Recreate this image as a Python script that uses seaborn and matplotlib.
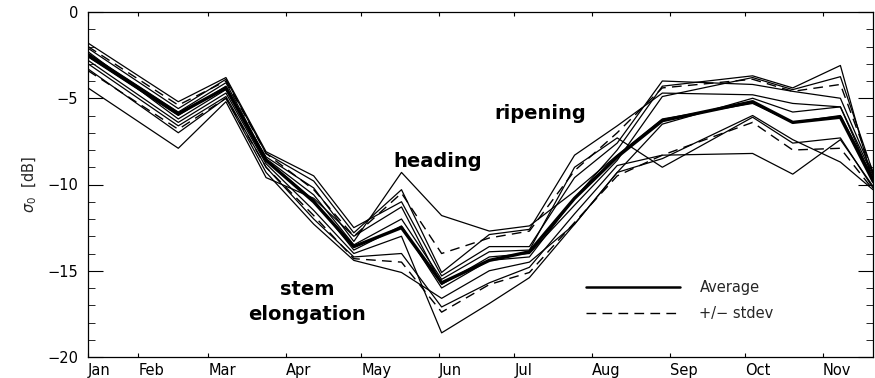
import matplotlib
matplotlib.use("Agg")
import matplotlib.pyplot as plt
import seaborn as sns
from matplotlib.lines import Line2D
from matplotlib.ticker import MultipleLocator

# acquisition dates (day of year)
days = [11, 47, 66, 82, 101, 117, 136, 152, 171, 187, 205, 222, 240, 276, 292, 311, 324]

# month ticks (day of year) and labels
month_ticks = [11, 31, 59, 90, 120, 151, 181, 212, 243, 273, 304]
month_labels = ["Jan", "Feb", "Mar", "Apr", "May", "Jun", "Jul", "Aug", "Sep", "Oct", "Nov"]

# average and +/- stdev curves (dB)
average = [-2.5, -5.9, -4.4, -8.6, -11.0, -13.6, -12.5, -15.7, -14.4, -13.9, -10.8, -8.4, -6.3, -5.2, -6.4, -6.1, -9.8]
upper = [-2.0, -5.4, -4.0, -8.2, -10.3, -13.0, -10.5, -14.0, -13.1, -12.7, -9.2, -7.0, -4.4, -3.9, -4.6, -4.2, -9.3]
lower = [-3.4, -6.8, -5.0, -9.0, -11.8, -14.3, -14.5, -17.4, -15.8, -15.1, -12.2, -9.5, -8.3, -6.4, -8.0, -7.9, -10.3]

# individual years (dB)
year_a = [-1.8, -5.2, -3.8, -8.1, -9.5, -12.5, -11.0, -15.3, -13.6, -13.6, -9.6, -7.6, -4.0, -4.2, -4.6, -5.0, -9.4]
year_b = [-2.1, -5.6, -3.9, -8.2, -9.8, -12.8, -10.3, -15.1, -12.9, -12.6, -8.3, -6.6, -4.7, -4.8, -5.3, -5.5, -9.5]
year_c = [-2.3, -6.2, -4.5, -8.4, -10.2, -13.3, -9.3, -11.8, -12.7, -12.4, -10.4, -8.3, -6.2, -5.3, -6.4, -6.0, -9.6]
year_d = [-2.4, -5.8, -4.1, -8.5, -10.6, -13.5, -12.0, -15.5, -13.9, -13.8, -9.0, -7.3, -9.0, -6.1, -7.6, -7.3, -10.2]
year_e = [-2.6, -6.0, -4.3, -8.6, -10.9, -13.8, -12.4, -16.0, -14.4, -14.2, -10.8, -8.0, -4.3, -3.7, -4.4, -3.1, -9.9]
year_f = [-2.8, -6.4, -4.7, -8.8, -11.5, -14.0, -13.0, -18.6, -16.9, -15.4, -12.3, -9.3, -6.5, -5.0, -5.8, -5.5, -9.8]
year_g = [-3.0, -6.6, -4.9, -9.0, -12.0, -14.2, -14.0, -17.1, -15.7, -14.8, -11.7, -8.9, -8.3, -8.2, -9.4, -7.4, -10.1]
year_h = [-3.3, -7.0, -5.0, -9.3, -12.3, -14.4, -15.1, -16.6, -15.0, -14.5, -12.3, -9.3, -8.5, -6.0, -7.4, -8.7, -10.3]
year_i = [-4.4, -7.9, -5.2, -9.6, -10.8, -13.0, -11.3, -15.8, -14.2, -14.0, -11.2, -8.6, -4.9, -3.8, -4.5, -3.75, -9.3]

years = [year_a, year_b, year_c, year_d, year_e, year_f, year_g, year_h, year_i]

sns.set_theme(style="ticks")
plt.rcParams["font.family"] = ["DejaVu Sans"]

fig = plt.figure(figsize=(8.75, 3.78), dpi=100)
ax = fig.add_axes([88 / 875, 21 / 378, 785 / 875, 345 / 378])

for yr in years:
    sns.lineplot(x=days, y=yr, color="black", lw=0.9, ax=ax, legend=False)

sns.lineplot(x=days, y=average, color="black", lw=2.4, ax=ax, legend=False)
for s in (upper, lower):
    sns.lineplot(x=days, y=s, color="black", lw=1.0, ax=ax, legend=False,
                 dashes=False, linestyle=(0, (7, 4.5)))

ax.set_xlim(days[0], days[-1])
ax.set_ylim(-20, 0)
ax.set_xticks(month_ticks)
ax.set_xticklabels(month_labels, ha="left")
ax.yaxis.set_major_locator(MultipleLocator(5))
ax.yaxis.set_minor_locator(MultipleLocator(1))

ax.tick_params(axis="both", direction="in", top=True, right=True, colors="black",
               labelsize=10.5, width=0.8)
ax.tick_params(axis="x", length=3, pad=4)
ax.tick_params(axis="y", which="major", length=10.5, pad=7)
ax.tick_params(axis="y", which="minor", length=5, width=0.7, direction="in", right=True)
for sp in ax.spines.values():
    sp.set_visible(True)
    sp.set_color("black")
    sp.set_linewidth(0.9)

ax.set_ylabel(r"$\sigma_0$  [dB]", fontsize=10.5, labelpad=6)
ax.set_xlabel("")

txt = dict(fontsize=14, fontweight="bold", color="black", ha="center", va="baseline")
ax.text(150.5, -8.97, "heading", **txt)
ax.text(191.5, -6.2, "ripening", **txt)
ax.text(98.5, -16.39, "stem", **txt)
ax.text(98.5, -17.83, "elongation", **txt)

handles = [Line2D([], [], color="black", lw=1.8),
           Line2D([], [], color="black", lw=1.0, linestyle=(0, (7, 4.5)))]
ax.legend(handles, ["Average", "+/\u2212 stdev"], loc="center left",
          bbox_to_anchor=(0.634, 0.164), frameon=False, fontsize=10.5,
          handlelength=6.5, handletextpad=1.3, labelspacing=0.75,
          borderpad=0, borderaxespad=0)

fig.savefig("out.png", dpi=100, facecolor="white")
